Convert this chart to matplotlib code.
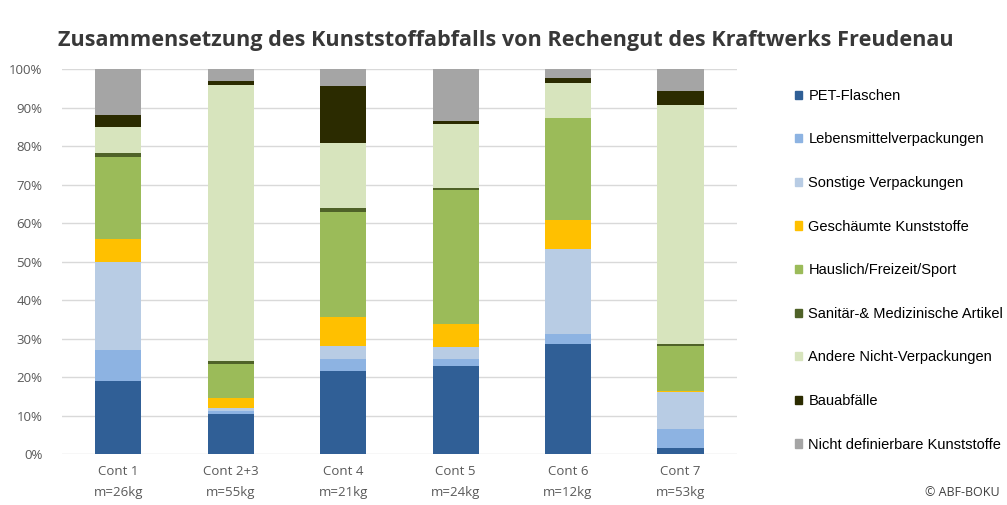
import matplotlib.pyplot as plt
import numpy as np
from matplotlib.patches import Patch
from matplotlib.ticker import PercentFormatter

# Anteile je Container in % (von unten nach oben gestapelt)
containers = ['Cont 1\nm=26kg', 'Cont 2+3\nm=55kg', 'Cont 4\nm=21kg',
              'Cont 5\nm=24kg', 'Cont 6\nm=12kg', 'Cont 7\nm=53kg']
legend_labels = ['PET-Flaschen', 'Lebensmittelverpackungen', 'Sonstige Verpackungen',
                 'Geschäumte Kunststoffe', 'Hauslich/Freizeit/Sport',
                 'Sanitär-& Medizinische Artikel', 'Andere Nicht-Verpackungen',
                 'Bauabfälle', 'Nicht definierbare Kunststoffe']

pet     = [19.0, 10.3, 21.6, 22.9, 28.5, 1.5]
lebens  = [8.0, 0.9, 3.2, 1.9, 2.6, 4.9]
sonst   = [22.8, 0.8, 3.3, 3.0, 22.3, 9.8]
gesch   = [6.0, 2.5, 7.4, 6.1, 7.4, 0.2]
haus    = [21.4, 9.0, 27.3, 34.7, 26.4, 11.7]
sanitaer = [0.9, 0.7, 1.0, 0.4, 0.2, 0.4]
andere  = [6.9, 71.8, 17.1, 16.7, 9.1, 62.3]
bau     = [3.2, 0.9, 14.8, 0.8, 1.1, 3.5]
nicht   = [11.8, 3.1, 4.3, 13.5, 2.4, 5.7]

series = [pet, lebens, sonst, gesch, haus, sanitaer, andere, bau, nicht]
colors = ['#305f96', '#8db3e2', '#b8cce4', '#ffc000', '#9bbb59',
          '#4f6228', '#d7e4bd', '#2b2b00', '#a5a5a5']

fig = plt.figure(figsize=(10.07, 5.05), dpi=100)
ax = fig.add_axes([0.0616, 0.101, 0.670, 0.762])

x = np.arange(len(containers))
bottom = np.zeros(len(containers))
for vals, col in zip(series, colors):
    ax.bar(x, vals, 0.41, bottom=bottom, color=col, zorder=3)
    bottom += np.array(vals)

ax.set_xlim(-0.5, 5.5)
ax.set_ylim(0, 100)
ax.set_yticks(range(0, 101, 10))
ax.yaxis.set_major_formatter(PercentFormatter(decimals=0))
ax.grid(axis='y', color='#d9d9d9', lw=1, zorder=0)
for s in ax.spines.values():
    s.set_visible(False)
ax.tick_params(length=0, colors='#595959', labelsize=9.5)
ax.set_xticks(x)
ax.set_xticklabels(containers, family='Open Sans', linespacing=1.75)
for t in ax.get_yticklabels():
    t.set_family('Open Sans')
ax.tick_params(axis='x', pad=8)
ax.tick_params(axis='y', pad=14)

fig.text(0.058, 0.92, 'Zusammensetzung des Kunststoffabfalls von Rechengut des Kraftwerks Freudenau',
         family='Open Sans', weight='bold', fontsize=15.6, color='#383838', va='center')

handles = [Patch(color=c) for c in colors]
fig.legend(handles, legend_labels, loc='upper left', bbox_to_anchor=(0.776, 0.85),
           frameon=False, handlelength=0.5, handleheight=0.5,
           handletextpad=0.45, labelspacing=2.03, prop={'family': 'Liberation Sans', 'size': 10.5})

fig.text(0.993, 0.025, '© ABF-BOKU', ha='right', va='center', family='Open Sans',
         fontsize=9, color='#404040')

fig.savefig('out.png', dpi=100)
